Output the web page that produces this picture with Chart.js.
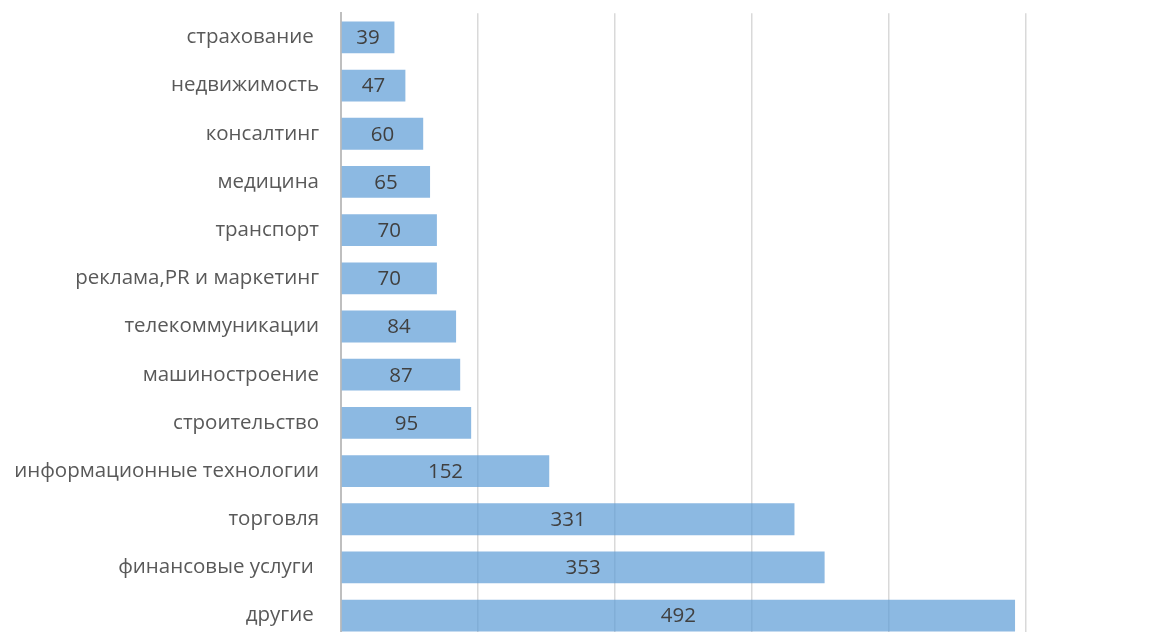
<!DOCTYPE html>
<html>
<head>
<meta charset="utf-8">
<script src="https://cdn.jsdelivr.net/npm/chart.js@4/dist/chart.umd.min.js"></script>
<style>
html,body{margin:0;padding:0;background:#fff;overflow:hidden;}
#wrap{width:1153px;height:695px;position:relative;margin-top:-21px;}
</style>
</head>
<body>
<div id="wrap"><canvas id="c"></canvas></div>
<script>
const categories = ["страхование ", "недвижимость", "консалтинг", "медицина", "транспорт", "реклама,PR и маркетинг", "телекоммуникации", "машиностроение", "строительство", "информационные технологии", "торговля", "финансовые услуги ", "другие "];
const values = [39, 47, 60, 65, 70, 70, 84, 87, 95, 152, 331, 353, 492];
const axisMin = 0, axisMax = 500, axisStep = 100;

const labelPlugin = {
  id: 'barLabels',
  afterDatasetsDraw(chart) {
    const ctx = chart.ctx;
    const meta = chart.getDatasetMeta(0);
    ctx.save();
    ctx.font = '20.5px "Open Sans", sans-serif';
    ctx.fillStyle = '#404040';
    ctx.textAlign = 'center';
    ctx.textBaseline = 'middle';
    meta.data.forEach((el, i) => {
      const x = (el.x + el.base) / 2;
      ctx.fillText(String(values[i]), x, el.y + 1);
    });
    ctx.restore();
  }
};

new Chart(document.getElementById('c'), {
  type: 'bar',
  data: {
    labels: categories,
    datasets: [{
      data: values,
      backgroundColor: 'rgba(91,155,213,0.7)',
      borderWidth: 0,
      categoryPercentage: 1,
      barPercentage: 0.66
    }]
  },
  options: {
    indexAxis: 'y',
    responsive: true,
    maintainAspectRatio: false,
    animation: false,
    layout: { padding: { left: 0, right: 127, top: 12, bottom: 20 } },
    plugins: { legend: { display: false }, tooltip: { enabled: false } },
    scales: {
      x: {
        min: axisMin, max: axisMax,
        ticks: { display: false, stepSize: axisStep },
        grid: { color: '#d9d9d9', lineWidth: 1.5, drawTicks: false },
        border: { display: false }
      },
      y: {
        afterFit(scale) { scale.width = 341; },
        ticks: { color: '#595959', font: { family: '"Open Sans", sans-serif', size: 20.5 }, padding: 22 },
        grid: { display: false, drawTicks: false },
        border: { display: true, color: '#bfbfbf', width: 2 }
      }
    }
  },
  plugins: [labelPlugin]
});
</script>
</body>
</html>
